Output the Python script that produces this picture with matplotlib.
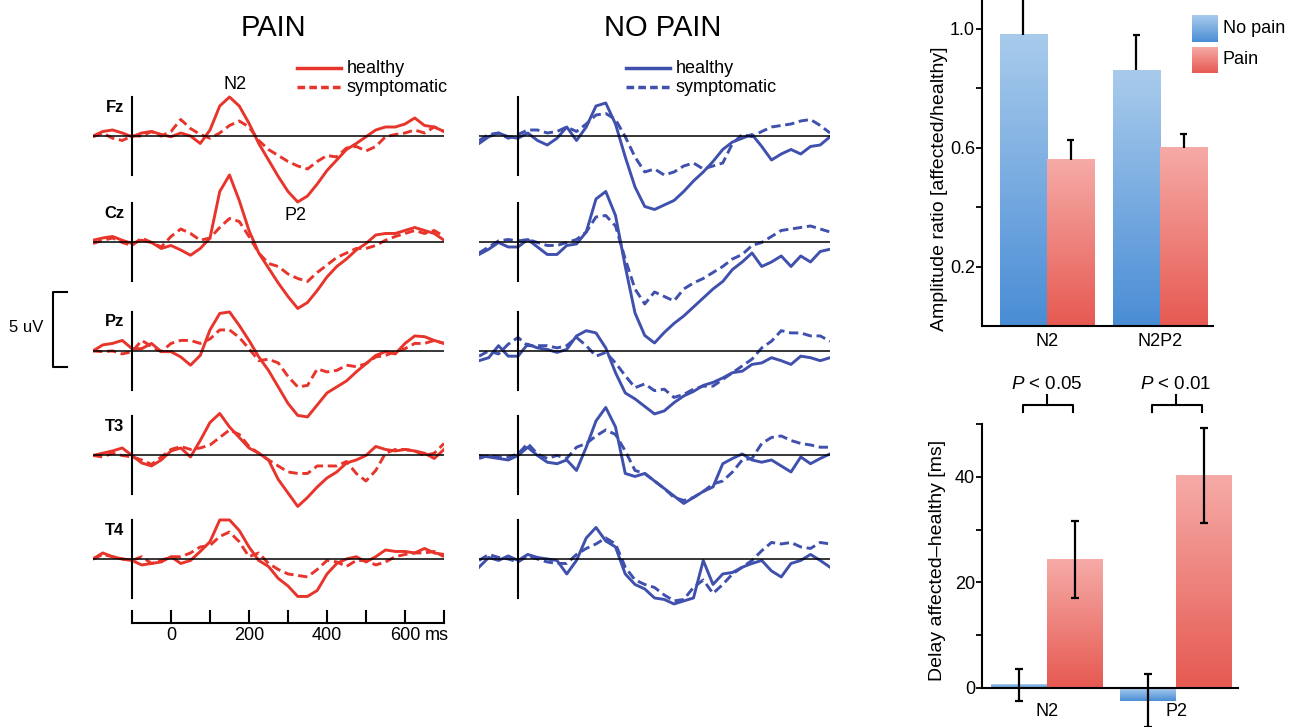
import numpy as np
import matplotlib
matplotlib.use("Agg")
import matplotlib.pyplot as plt
from matplotlib.colors import LinearSegmentedColormap

plt.rcParams['font.family'] = ['Liberation Sans', 'DejaVu Sans']
plt.rcParams['mathtext.fontset'] = 'custom'
plt.rcParams['mathtext.rm'] = 'Liberation Sans'
plt.rcParams['mathtext.it'] = 'Liberation Sans:italic'

# ---- ERP data (uV, negative = up), sampled every 25 ms ----
times = list(range(-200, 701, 25))
channels = ["Fz", "Cz", "Pz", "T3", "T4"]

pain_fz_h = [0, -0.3, -0.4, -0.2, 0.05, -0.2, -0.3, -0.1, 0.05, -0.2, 0, 0.5, -0.4, -2.0, -2.6, -2.0, -0.85, 0.5, 1.6, 2.7, 3.7, 4.4, 4.0, 3.2, 2.3, 1.6, 0.9, 0.5, 0.05, -0.4, -0.6, -0.6, -0.8, -1.2, -0.7, -0.6, -0.3]
pain_fz_s = [0.05, -0.2, 0.15, 0.3, 0, 0, -0.3, 0, -0.3, -1.1, -0.5, -0.1, 0.15, -0.2, -0.7, -1.0, -0.6, 0.3, 0.9, 1.3, 1.7, 2.0, 2.2, 1.7, 1.3, 1.4, 0.8, 0.7, 1.0, 0.7, 0.05, -0.1, -0.2, -0.4, -0.2, -0.6, -0.3]
pain_cz_h = [-0.15, -0.3, -0.4, -0.15, 0.07, -0.15, 0, 0.4, 0.2, 0.5, 0.85, 0.4, -0.3, -3.4, -4.5, -2.8, -0.8, 0.7, 1.7, 2.7, 3.6, 4.4, 4.0, 3.2, 2.3, 1.6, 1.1, 0.5, 0.07, -0.5, -0.6, -0.6, -0.8, -1.0, -0.8, -0.6, -0.15]
pain_cz_s = [0.07, -0.15, -0.3, 0, 0.2, -0.3, 0, 0.3, -0.4, -0.9, -0.6, -0.15, -0.3, -1.0, -1.6, -1.4, -0.4, 0.7, 1.4, 1.6, 2.1, 2.4, 2.6, 2.0, 1.5, 1.0, 0.7, 0.4, 0.4, 0.2, -0.15, -0.4, -0.6, -0.8, -0.6, -0.8, -0.4]
pain_pz_h = [0, -0.4, -0.5, -0.7, -0.15, -0.15, -0.5, 0.05, 0.05, 0.4, 0.95, 0.3, -1.4, -2.5, -2.6, -1.7, -0.7, 0.4, 1.3, 2.4, 3.5, 4.3, 4.4, 3.6, 2.8, 2.4, 2.0, 1.4, 0.85, 0.3, 0.05, 0.2, -0.5, -1.0, -0.95, -0.7, -0.5]
pain_pz_s = [0, 0.05, 0, 0.2, 0.05, -0.7, -0.3, 0.05, -0.5, -0.7, -0.7, -0.5, -0.8, -1.4, -1.4, -0.9, -0.15, 0.65, 0.55, 0.8, 1.7, 2.4, 2.3, 1.2, 1.4, 1.3, 0.95, 1.05, 0.85, 0.4, 0.3, 0.05, -0.15, -0.5, -0.5, -0.7, -0.5]
pain_t3_h = [0, -0.15, -0.3, -0.5, 0, 0.5, 0.7, 0.3, -0.3, -0.5, 0.1, -1.0, -2.2, -2.8, -1.9, -1.2, -0.5, -0.15, 0.3, 1.6, 2.5, 3.4, 2.8, 2.1, 1.5, 1.1, 0.5, 0.3, 0, -0.6, -0.4, -0.3, -0.4, -0.3, -0.15, 0.2, -0.4]
pain_t3_s = [0, 0.1, -0.15, 0, 0.1, 0.3, 0.6, 0.1, -0.4, -0.6, -0.4, -0.5, -0.7, -1.2, -1.7, -1.4, -0.6, -0.15, 0.3, 0.7, 1.1, 1.2, 1.2, 0.7, 0.7, 0.7, 0.4, 1.2, 1.7, 1.0, -0.15, -0.4, -0.4, -0.3, 0, -0.15, -0.8]
pain_t4_h = [0, -0.4, -0.15, 0, 0.1, 0.4, 0.3, 0.2, -0.15, 0.3, 0.1, -0.5, -1.15, -2.6, -2.6, -1.9, -0.8, 0.1, 0.5, 1.3, 1.8, 2.5, 2.5, 2.1, 1.0, 0.3, 0, -0.15, 0.2, -0.15, -0.6, -0.5, -0.5, -0.4, -0.7, -0.4, -0.3]
pain_t4_s = [0, -0.3, -0.15, 0, 0.1, -0.15, 0.3, 0.1, -0.15, -0.15, -0.4, -0.8, -0.9, -1.5, -1.8, -1.15, -0.15, -0.4, 0.3, 0.7, 1.0, 1.1, 1.2, 0.7, 0.1, 0.2, 0.5, 0.1, 0.1, 0.4, 0.2, -0.15, -0.3, -0.4, -0.4, -0.5, -0.15]

nopain_fz_h = [0.5, 0.05, -0.2, 0.05, 0.15, -0.2, 0.3, 0.6, 0.15, -0.6, 0.3, -0.6, -2.0, -2.2, -0.8, 1.4, 3.4, 4.7, 4.9, 4.6, 4.3, 3.7, 3.0, 2.4, 1.7, 0.9, 0.4, 0.15, -0.1, 0.7, 1.6, 1.2, 0.9, 1.2, 0.7, 0.6, 0.05]
nopain_fz_s = [0.3, -0.1, -0.2, 0.15, -0.1, -0.4, -0.4, -0.2, -0.3, -0.6, -0.3, -0.8, -1.4, -1.5, -1.1, 0.05, 1.4, 2.4, 2.2, 2.6, 2.4, 2.0, 1.8, 2.2, 2.0, 1.8, 0.5, -0.1, 0.05, -0.3, -0.6, -0.7, -0.8, -1.0, -1.1, -0.7, -0.2]
nopain_cz_h = [0.8, 0.45, 0, 0.3, 0.3, -0.2, 0.3, 0.8, 0.8, 0.2, 0.1, -0.7, -2.9, -3.4, -1.8, 1.6, 4.7, 6.2, 6.7, 6.0, 5.4, 4.9, 4.3, 3.7, 3.1, 2.6, 1.8, 1.3, 0.7, 1.6, 1.3, 0.9, 1.6, 0.9, 1.3, 0.6, 0.45]
nopain_cz_s = [0.7, 0.3, -0.1, -0.2, -0.1, -0.2, 0, 0.2, 0.2, 0, -0.2, -0.7, -1.7, -1.8, -1.1, 1.1, 3.1, 4.1, 3.3, 3.6, 3.9, 3.1, 2.7, 2.4, 2.0, 1.6, 1.1, 0.8, 0.2, 0, -0.4, -0.8, -0.9, -1.0, -1.1, -0.9, -0.7]
nopain_pz_h = [0.65, 0.45, -0.35, 0.35, 0.35, -0.45, -0.2, -0.1, 0.1, -0.1, -1.0, -1.35, -1.2, -0.2, 1.45, 2.8, 3.2, 3.7, 4.2, 4.0, 3.45, 3.0, 2.7, 2.3, 2.1, 1.8, 1.45, 1.35, 0.9, 0.8, 0.45, 0.65, 0.9, 0.35, 0.45, 0.65, 0.45]
nopain_pz_s = [0.35, 0, 0.2, -0.45, -0.9, -0.35, -0.35, -0.35, -0.2, -0.35, -0.9, -0.35, 0.35, 0.1, 0.8, 1.65, 2.45, 2.2, 2.65, 2.55, 3.1, 2.9, 2.55, 2.35, 2.35, 1.9, 1.45, 1.0, 0.55, -0.2, -0.65, -1.35, -1.2, -1.2, -1.0, -1.0, -0.65]
nopain_t3_h = [0, 0.1, 0.2, 0.3, 0, -0.55, 0, 0.45, 0.55, 0.3, 1.0, -0.55, -2.3, -3.2, -1.9, 1.2, 1.4, 1.2, 1.7, 2.2, 2.7, 3.2, 2.8, 2.4, 2.1, 0.55, 0.2, -0.1, 0.3, 0.45, 0.3, 0.7, 1.1, 0.1, 0.55, 0.2, -0.1]
nopain_t3_s = [0.2, 0, 0.1, 0.1, -0.1, -0.8, -0.1, 0.2, 0, 0.2, -0.55, -0.8, -1.3, -1.7, -1.4, -0.3, 1.0, 1.2, 1.7, 2.2, 2.8, 3.0, 2.8, 2.4, 1.9, 1.7, 1.1, 0.3, 0.2, -0.8, -1.2, -1.3, -1.0, -0.8, -0.7, -0.55, -0.55]
nopain_t4_h = [0.55, -0.1, 0.1, -0.2, 0.1, -0.3, -0.1, 0, 0.1, 1.0, 0.1, -1.4, -2.1, -1.2, -0.8, 1.0, 1.7, 2.0, 2.6, 2.7, 3.0, 2.8, 2.6, 0.1, 1.7, 1.0, 0.9, 0.55, 0.3, 0.1, 0.8, 1.2, 0.3, 0.1, -0.3, 0.1, 0.55]
nopain_t4_s = [0.1, -0.3, -0.1, 0, 0.2, -0.2, 0, 0.2, 0.3, 0.3, -0.3, -0.7, -1.0, -1.4, -1.0, 0.55, 1.4, 1.7, 1.9, 2.4, 2.8, 2.7, 1.9, 1.4, 2.3, 1.7, 1.0, 0.55, 0.1, -0.55, -1.1, -1.0, -1.1, -0.8, -0.7, -1.1, -1.0]

# ---- bar chart data ----
amp_groups = ["N2", "N2P2"]
amp_nopain = [0.98, 0.86]
amp_nopain_err = [0.14, 0.12]
amp_pain = [0.56, 0.60]
amp_pain_err = [0.067, 0.045]

delay_groups = ["N2", "P2"]
delay_nopain = [0.6, -2.4]
delay_nopain_err = [3.0, 5.0]
delay_pain = [24.3, 40.2]
delay_pain_err = [7.3, 9.0]
p_labels = [r"$\mathit{P}$ < 0.05", r"$\mathit{P}$ < 0.01"]

RED = "#e8352c"
BLUE = "#3f50ad"
blue_cmap = LinearSegmentedColormap.from_list("np", ["#4a8dd5", "#a8cbec"])
pink_cmap = LinearSegmentedColormap.from_list("p", ["#e65a52", "#f6aaa6"])
grad = np.linspace(0, 1, 100).reshape(-1, 1)

W, H = 1295, 727
fig = plt.figure(figsize=(W / 100, H / 100), dpi=100)


def px_axes(x0, y0, x1, y1):
    return fig.add_axes([x0 / W, 1 - y1 / H, (x1 - x0) / W, (y1 - y0) / H])


# ---- ERP panels ----
offsets = [0, 7.1, 14.33, 21.3, 28.2]
pain_sets = [(pain_fz_h, pain_fz_s), (pain_cz_h, pain_cz_s), (pain_pz_h, pain_pz_s),
             (pain_t3_h, pain_t3_s), (pain_t4_h, pain_t4_s)]
nopain_sets = [(nopain_fz_h, nopain_fz_s), (nopain_cz_h, nopain_cz_s), (nopain_pz_h, nopain_pz_s),
               (nopain_t3_h, nopain_t3_s), (nopain_t4_h, nopain_t4_s)]

ax_p = px_axes(93, 40, 444, 650)
ax_n = px_axes(479, 40, 830, 650)
for ax, sets, color in [(ax_p, pain_sets, RED), (ax_n, nopain_sets, BLUE)]:
    ax.set_xlim(-200, 700)
    ax.set_ylim(34.27, -6.4)
    ax.axis("off")
    for (h, s), off in zip(sets, offsets):
        ax.plot(times, np.array(h) + off, color=color, lw=2.1)
        ax.plot(times, np.array(s) + off, color=color, lw=2.1, dashes=(3.2, 1.6))
        ax.plot([-200, 700], [off, off], color="black", lw=1.1, zorder=3)
        ax.plot([-100, -100], [off - 2.6, off + 2.6], color="black", lw=1.5, zorder=3)
    # legend
    lx = (323, 436) if ax is ax_p else (177, 290)
    ax.plot(lx, [-4.5, -4.5], color=color, lw=2.5)
    ax.plot(lx, [-3.25, -3.25], color=color, lw=2.5, dashes=(2.2, 1.2))
    ax.text(lx[1] + 15, -4.5, "healthy", fontsize=13, va="center", ha="left")
    ax.text(lx[1] + 15, -3.25, "symptomatic", fontsize=13, va="center", ha="left")

ax_p.text(262, -7.2, "PAIN", fontsize=21, ha="center", va="center")
ax_n.text(272, -7.2, "NO PAIN", fontsize=21, ha="center", va="center")

for name, off in zip(channels, offsets):
    ax_p.text(-120, off - 1.93, name, fontsize=12, fontweight="bold", ha="right", va="center")

ax_p.text(164, -3.4, "N2", fontsize=13, ha="center", va="center")
ax_p.text(320, 5.33, "P2", fontsize=13, ha="center", va="center")

# time axis
ty = 32.47
ax_p.plot([-100, 700], [ty, ty], color="black", lw=1.5, clip_on=False)
for t in range(-100, 701, 100):
    ax_p.plot([t, t], [ty, ty - 0.8], color="black", lw=1.5, clip_on=False)
for t in [0, 200, 400, 600]:
    ax_p.text(t, 33.3, str(t), fontsize=13, ha="center", va="center")
ax_p.annotate("ms", xy=(600, 33.3), xytext=(14, 0), textcoords="offset points",
              fontsize=13, ha="left", va="center")

# 5 uV scale bar
ax_p.plot([-267, -303, -303, -267], [10.4, 10.4, 15.4, 15.4], color="black", lw=1.5, clip_on=False)
ax_p.text(-326, 12.8, "5 uV", fontsize=12, ha="right", va="center")


def fill_gradient(ax, bars, cmap):
    for b in bars:
        x0, w = b.get_x(), b.get_width()
        y0, h = b.get_y(), b.get_height()
        ax.imshow(grad, extent=[x0, x0 + w, min(y0, y0 + h), max(y0, y0 + h)],
                  origin="lower", aspect="auto", cmap=cmap, zorder=1)


def style_axes(ax):
    for side in ["top", "right"]:
        ax.spines[side].set_visible(False)
    for side in ["left", "bottom"]:
        ax.spines[side].set_linewidth(1.5)
    ax.tick_params(axis="y", length=4, width=1.3, pad=1, labelsize=13)


# ---- amplitude ratio chart ----
ax1 = px_axes(982, -1, 1213, 326)
x = np.arange(len(amp_groups))
bw = 0.42
b1 = ax1.bar(x - bw / 2, amp_nopain, bw, color="none")
b2 = ax1.bar(x + bw / 2, amp_pain, bw, color="none")
fill_gradient(ax1, b1, blue_cmap)
fill_gradient(ax1, b2, pink_cmap)
for xs, vals, errs in [(x - bw / 2, amp_nopain, amp_nopain_err), (x + bw / 2, amp_pain, amp_pain_err)]:
    tops = np.add(vals, errs)
    ax1.vlines(xs, vals, tops, color="black", lw=1.6, zorder=3)
    ax1.hlines(tops, xs - 0.03, xs + 0.03, color="black", lw=1.6, zorder=3)
ax1.set_xlim(-0.575, 1.469)
ax1.set_ylim(0, 1.1)
ax1.set_yticks([0.2, 0.4, 0.6, 0.8, 1.0])
ax1.set_yticklabels(["0.2", "", "0.6", "", "1.0"])
ax1.set_xticks(x)
ax1.set_xticklabels(amp_groups, fontsize=13)
ax1.tick_params(axis="x", length=0, pad=5)
style_axes(ax1)
fig.text(940 / W, 1 - 189 / H, "Amplitude ratio [affected/healthy]", rotation=90,
         fontsize=14, ha="center", va="center")

for (y0, y1), cmap, label in zip([(15, 42), (47, 73)], [blue_cmap, pink_cmap], ["No pain", "Pain"]):
    lax = px_axes(1192, y0, 1218, y1)
    lax.imshow(grad, origin="lower", aspect="auto", cmap=cmap)
    lax.axis("off")
    fig.text(1223 / W, 1 - (y0 + y1) / 2 / H, label, fontsize=13, ha="left", va="center")

# ---- delay chart ----
ax2 = px_axes(982, 424, 1238, 727)
x2 = np.arange(len(delay_groups))
bw2 = 0.434
c1 = ax2.bar(x2 - bw2 / 2, delay_nopain, bw2, color="none")
c2 = ax2.bar(x2 + bw2 / 2, delay_pain, bw2, color="none")
fill_gradient(ax2, c1, blue_cmap)
fill_gradient(ax2, c2, pink_cmap)
for xs, vals, errs in [(x2 - bw2 / 2, delay_nopain, delay_nopain_err), (x2 + bw2 / 2, delay_pain, delay_pain_err)]:
    lo = np.subtract(vals, errs)
    hi = np.add(vals, errs)
    ax2.vlines(xs, lo, hi, color="black", lw=1.6, zorder=3)
    ax2.hlines(lo, xs - 0.031, xs + 0.031, color="black", lw=1.6, zorder=3)
    ax2.hlines(hi, xs - 0.031, xs + 0.031, color="black", lw=1.6, zorder=3)
ax2.set_xlim(-0.504, 1.48)
ax2.set_ylim(-7.39, 50)
ax2.spines["bottom"].set_position(("data", 0))
ax2.spines["left"].set_bounds(0, 50)
ax2.set_yticks([0, 10, 20, 30, 40, 50])
ax2.set_yticklabels(["0", "", "20", "", "40", ""])
ax2.set_xticks(x2)
ax2.set_xticklabels(delay_groups, fontsize=13)
ax2.tick_params(axis="x", length=0, pad=11)
style_axes(ax2)
fig.text(938 / W, 1 - 560 / H, "Delay affected\u2013healthy [ms]", rotation=90,
         fontsize=14, ha="center", va="center")

for xi, lab in zip(x2, p_labels):
    ax2.plot([xi - 0.19, xi - 0.19, xi + 0.2, xi + 0.2], [52.3, 53.6, 53.6, 52.3],
             color="black", lw=1.5, clip_on=False)
    ax2.plot([xi, xi], [53.6, 55.5], color="black", lw=1.5, clip_on=False)
    ax2.text(xi, 57.4, lab, fontsize=13.5, ha="center", va="center")

fig.savefig("out.png", dpi=100)
